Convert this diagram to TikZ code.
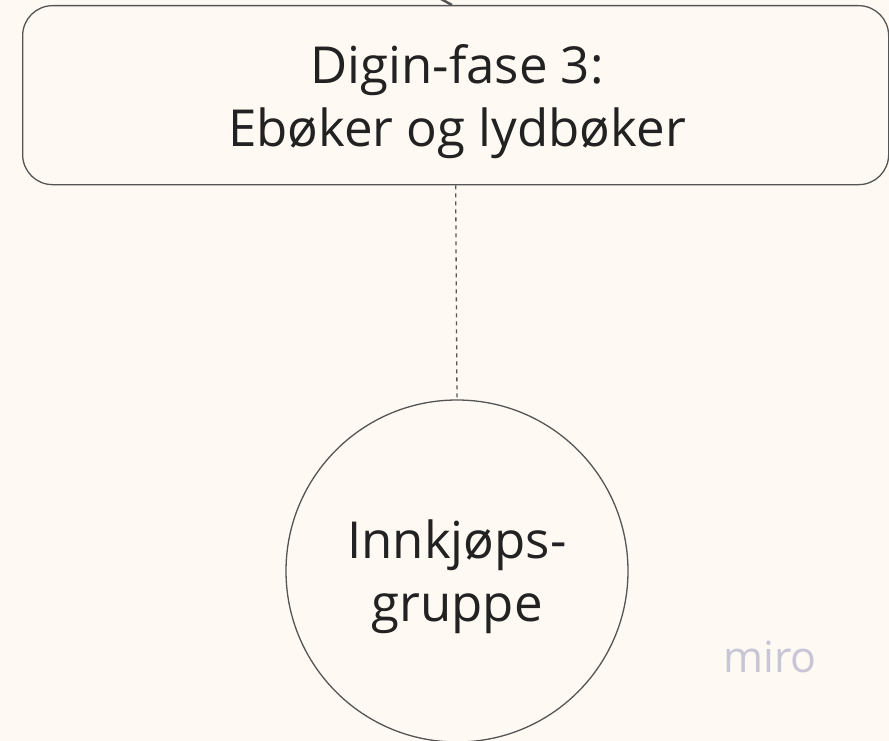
\documentclass[tikz,border=0pt]{standalone}
\usepackage{fontspec}
\setmainfont{Open Sans}
\definecolor{bg}{HTML}{FEFAF3}
\definecolor{edge}{HTML}{555555}
\definecolor{ink}{HTML}{222222}
\definecolor{mirogray}{HTML}{C8C6D6}
\begin{document}
\begin{tikzpicture}[x=1pt,y=-1pt,
  shapebox/.style={draw=edge, line width=1.3pt, rounded corners=30pt, fill=bg},
  lbl/.style={text=ink, font=\fontsize{51}{63}\selectfont, align=center},
  link/.style={draw=edge, line width=1.3pt, dash pattern=on 4pt off 4pt}]
\fill[bg] (0,0) rectangle (889,741);
\useasboundingbox (0,0) rectangle (889,741);
\node[shapebox, minimum width=866pt, minimum height=179pt, anchor=north west, inner sep=0pt] (box) at (22,5) {};
\node[lbl] (boxtxt) at (457,102) {Digin-fase 3:\\Ebøker og lydbøker};
\node[draw=edge, line width=1.3pt, circle, minimum size=342pt, inner sep=0pt, fill=bg] (circ) at (457,571) {};
\node[lbl] (circtxt) at (457,577) {Innkjøps-\\gruppe};
\draw[link] (box.south) -- (circ.north);
\coordinate (topend) at (441,-1);
\draw[edge, line width=2.5pt] (topend) -- (452,5);
\node[text=mirogray, font=\fontsize{43}{48}\selectfont, anchor=center] (miro) at (770,657) {miro};
\end{tikzpicture}
\end{document}
